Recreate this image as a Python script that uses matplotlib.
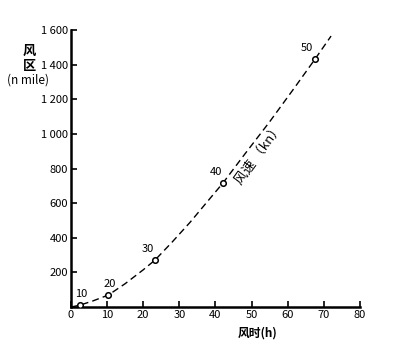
import numpy as np
import matplotlib.pyplot as plt
from matplotlib.ticker import FuncFormatter

plt.rcParams['font.family'] = ['Noto Sans CJK SC', 'DejaVu Sans']

# wind speed markers (kn) on the curve
speed_labels = ['10', '20', '30', '40', '50']
duration_h = [2.6, 10.4, 23.3, 42.1, 67.6]
fetch_nm = [12, 70, 272, 717, 1433]

# dashed curve
curve_x = [0, 2.6, 6, 10.4, 15, 20, 23.3, 28, 33, 38, 42.1, 48, 55, 62, 67.6, 72]
curve_y = [0, 12, 35, 70, 135, 215, 272, 375, 490, 615, 717, 880, 1070, 1270, 1433, 1565]

x_ticks = [0, 10, 20, 30, 40, 50, 60, 70, 80]
y_ticks = [200, 400, 600, 800, 1000, 1200, 1400, 1600]

fig = plt.figure(figsize=(3.96, 3.53), dpi=100)
ax = fig.add_axes([0.179, 0.130, 0.730, 0.785])

ax.plot(curve_x, curve_y, '--', color='black', linewidth=1.0, dashes=(5, 3))
ax.plot(duration_h, fetch_nm, 'o', markersize=4, markerfacecolor='white',
        markeredgecolor='black', markeredgewidth=1.1, zorder=3)
label_dx = [1, 1, -5, -5, -6]
for lab, x, y, dx in zip(speed_labels, duration_h, fetch_nm, label_dx):
    ax.annotate(lab, (x, y), xytext=(dx, 4), textcoords='offset points',
                ha='center', va='bottom', fontsize=8)

ax.text(52.0, 880, '风速 （kn）', rotation=54, fontsize=9.5,
        ha='center', va='center', rotation_mode='anchor')

ax.set_xlim(0, 80)
ax.set_ylim(0, 1600)
ax.set_xticks(x_ticks)
ax.set_yticks(y_ticks)
ax.yaxis.set_major_formatter(FuncFormatter(lambda v, p: f'{int(v):,}'.replace(',', ' ')))
ax.tick_params(direction='in', length=4, width=1.2, labelsize=8, pad=2)

for side in ['top', 'right']:
    ax.spines[side].set_visible(False)
for side in ['left', 'bottom']:
    ax.spines[side].set_linewidth(1.8)

fig.text(0.075, 0.834, '风\n区', fontsize=9.5, fontweight='bold',
         ha='center', va='center', linespacing=1.15)
fig.text(0.070, 0.773, '(n mile)', fontsize=8.5, ha='center', va='center')
fig.text(0.65, 0.057, '风时(h)', fontsize=8.5, fontweight='bold', ha='center', va='center')

fig.savefig('out.png', dpi=100)
